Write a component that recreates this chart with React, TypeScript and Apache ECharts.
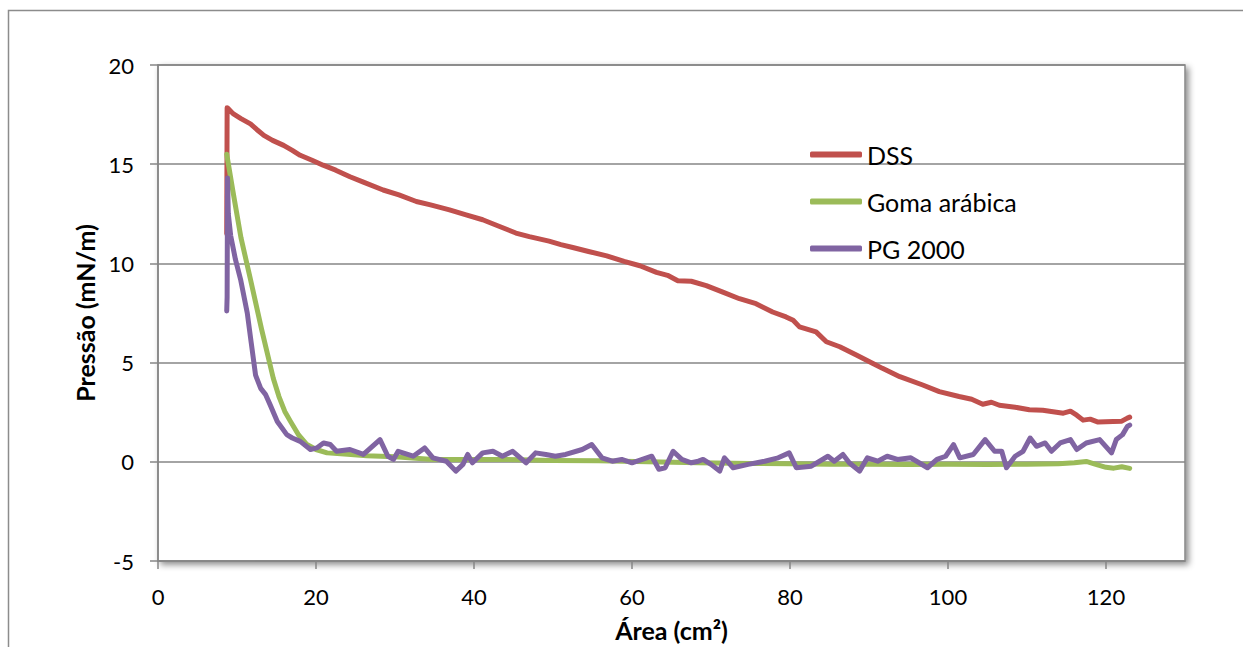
import React, { useEffect, useRef } from "react";
import * as echarts from "echarts";

const seriesNames = ["DSS", "Goma arábica", "PG 2000"];
const seriesColors = ["#C0504D", "#9BBB59", "#8064A2"];

const dssArea = [8.7, 8.75, 8.9, 9.5, 10.5, 11.7, 12.5, 13.4, 14.5, 15.9, 17, 18, 19.5, 20.9, 22.5, 24.3, 26, 28.5, 30.5, 32.7, 34.5, 36.9, 39, 41.1, 43, 45.3, 47, 49.5, 51, 52.5, 54.5, 56.8, 59, 61, 63.1, 64.5, 65.8, 67.5, 69.4, 71.5, 73.6, 75.7, 77.8, 79.5, 80.4, 81.2, 83.3, 84.6, 86.3, 88.4, 90.5, 91.7, 93.9, 96.8, 98.9, 101.4, 103, 104.4, 105.5, 106.5, 108.5, 110.3, 112, 114.6, 115.5, 116.3, 117.1, 118, 119, 120.9, 122, 122.7, 123];
const dssPressure = [11.5, 17.85, 17.8, 17.55, 17.3, 17.03, 16.75, 16.45, 16.2, 15.95, 15.7, 15.45, 15.2, 14.95, 14.7, 14.37, 14.1, 13.7, 13.45, 13.12, 12.95, 12.7, 12.45, 12.2, 11.9, 11.53, 11.35, 11.12, 10.95, 10.8, 10.6, 10.38, 10.1, 9.88, 9.55, 9.4, 9.13, 9.1, 8.88, 8.55, 8.22, 7.97, 7.55, 7.3, 7.13, 6.8, 6.55, 6.05, 5.8, 5.38, 4.96, 4.71, 4.29, 3.87, 3.54, 3.29, 3.15, 2.9, 3.0, 2.85, 2.75, 2.62, 2.6, 2.45, 2.55, 2.35, 2.1, 2.15, 2.0, 2.03, 2.05, 2.2, 2.25];

const gomaArea = [8.7, 9.5, 10.5, 11.7, 13.1, 14.6, 15.3, 16.05, 16.75, 17.8, 18.85, 20, 21.4, 24, 26.4, 30, 34.8, 40, 43.2, 50, 55.8, 62, 68.4, 75, 80, 85, 90, 95, 100, 105, 110, 114, 116, 117.5, 118.5, 120, 121, 122, 123];
const gomaPressure = [15.5, 13.6, 11.3, 9.2, 6.7, 4.2, 3.3, 2.54, 2.05, 1.35, 0.87, 0.62, 0.45, 0.38, 0.3, 0.25, 0.12, 0.12, 0.12, 0.07, 0.05, 0.0, -0.05, -0.08, -0.1, -0.12, -0.12, -0.13, -0.12, -0.13, -0.12, -0.1, -0.05, 0.02, -0.1, -0.28, -0.32, -0.25, -0.33];

const pgArea = [8.7, 8.75, 8.8, 8.9, 9.2, 9.8, 10.45, 11.3, 11.8, 12.35, 13, 13.6, 14.2, 15.1, 16.3, 17, 18.0, 19.3, 20.1, 20.95, 21.8, 22.6, 24.3, 26, 28.1, 29.1, 29.8, 30.4, 32.3, 33.75, 34.8, 36.5, 37.7, 38.6, 39.2, 39.8, 41.1, 42.4, 43.6, 44.9, 46.6, 47.8, 49.1, 50.3, 51.6, 53.7, 54.9, 56.2, 57.5, 58.7, 60, 61.3, 62.5, 63.4, 64.2, 65.2, 66.3, 67.5, 68.4, 69, 70, 71.1, 71.7, 72.8, 74.7, 76.8, 78.5, 79.9, 80.8, 82.7, 84.8, 85.6, 86.7, 87.5, 88.8, 89.8, 91.1, 92.3, 93.6, 95.3, 97.4, 98.6, 99.7, 100.7, 101.5, 103.2, 104.7, 105.9, 106.8, 107.4, 108.5, 109.5, 110.4, 111.2, 112.3, 113.1, 114.2, 115.5, 116.3, 117.5, 119.2, 120.7, 121.3, 122.1, 122.7, 123];
const pgPressure = [7.6, 8.3, 14.3, 12.5, 11.4, 10.2, 9.2, 7.5, 6.0, 4.37, 3.7, 3.4, 2.87, 2.03, 1.37, 1.2, 1.03, 0.62, 0.7, 0.95, 0.87, 0.53, 0.62, 0.37, 1.12, 0.28, 0.12, 0.53, 0.28, 0.7, 0.2, 0.03, -0.47, -0.13, 0.37, -0.05, 0.45, 0.53, 0.28, 0.53, -0.05, 0.45, 0.37, 0.28, 0.37, 0.62, 0.87, 0.2, 0.03, 0.12, -0.05, 0.12, 0.28, -0.38, -0.3, 0.53, 0.12, -0.05, 0.03, 0.12, -0.13, -0.47, 0.2, -0.3, -0.13, 0.03, 0.2, 0.45, -0.3, -0.22, 0.28, 0.03, 0.37, -0.05, -0.47, 0.2, 0.03, 0.28, 0.12, 0.2, -0.3, 0.12, 0.28, 0.87, 0.2, 0.37, 1.12, 0.53, 0.53, -0.3, 0.28, 0.53, 1.2, 0.78, 0.95, 0.53, 0.95, 1.12, 0.62, 0.95, 1.12, 0.45, 1.12, 1.37, 1.78, 1.85];

const xTickInterval = 20;
const yTickInterval = 5;

const zip = (xs: number[], ys: number[]) => xs.map((x, i) => [x, ys[i]]);

const FONT = "Lato, 'Open Sans', sans-serif";
const GRAY = "#868686";

export default function App() {
  const ref = useRef<HTMLDivElement>(null);
  useEffect(() => {
    if (!ref.current) return;
    const chart = echarts.init(ref.current, null, { renderer: "svg" });
    const lineSeries = [
      zip(dssArea, dssPressure),
      zip(gomaArea, gomaPressure),
      zip(pgArea, pgPressure),
    ].map((data, i) => ({
      name: seriesNames[i],
      type: "line",
      data,
      showSymbol: false,
      symbol: "none",
      color: seriesColors[i],
      lineStyle: { width: 5, color: seriesColors[i], cap: "round", join: "round" },
      z: 2 + i,
    }));
    chart.setOption({
      animation: false,
      backgroundColor: "#ffffff",
      graphic: [
        {
          type: "rect",
          shape: { x: 8.5, y: 10.5, width: 1260, height: 660 },
          style: { fill: "none", stroke: "#8c8c8c", lineWidth: 1.5 },
          silent: true,
          z: -10,
        },
      ],
      grid: {
        left: 158,
        top: 65,
        width: 1027,
        height: 499,
        show: true,
        backgroundColor: "#ffffff",
        borderColor: GRAY,
        borderWidth: 1.5,
        shadowColor: "rgba(0,0,0,0.45)",
        shadowBlur: 6,
        shadowOffsetX: 3,
        shadowOffsetY: 3,
      },
      legend: {
        orient: "vertical",
        left: 810,
        top: 142,
        padding: 0,
        itemWidth: 52,
        itemHeight: 6,
        itemGap: 22,
        icon: "roundRect",
        data: seriesNames,
        textStyle: { fontFamily: FONT, fontSize: 25, color: "#000" },
      },
      xAxis: {
        type: "value",
        min: 0,
        max: 130,
        interval: xTickInterval,
        name: "Área (cm²)",
        nameLocation: "middle",
        nameGap: 56,
        nameTextStyle: { fontFamily: FONT, fontSize: 25, fontWeight: "bold", color: "#000" },
        axisLine: { show: true, onZero: false, lineStyle: { color: GRAY, width: 1.5 } },
        axisTick: { show: true, inside: false, length: 8, lineStyle: { color: GRAY, width: 1.5 } },
        axisLabel: { fontFamily: FONT, fontSize: 22, color: "#000", margin: 24, showMaxLabel: false },
        splitLine: { show: false },
      },
      yAxis: {
        type: "value",
        min: -5,
        max: 20,
        interval: yTickInterval,
        name: "Pressão (mN/m)",
        nameLocation: "middle",
        nameGap: 56,
        nameTextStyle: { fontFamily: FONT, fontSize: 25, fontWeight: "bold", color: "#000" },
        axisLine: { show: true, lineStyle: { color: GRAY, width: 1.5 } },
        axisTick: { show: true, inside: false, length: 8, lineStyle: { color: GRAY, width: 1.5 } },
        axisLabel: { fontFamily: FONT, fontSize: 22, color: "#000", margin: 24 },
        splitLine: { show: true, lineStyle: { color: GRAY, width: 1.5 } },
      },
      series: lineSeries,
    });
    return () => chart.dispose();
  }, []);
  return (
    <div
      ref={ref}
      style={{ position: "absolute", left: 0, top: 0, width: 1243, height: 647 }}
    />
  );
}
